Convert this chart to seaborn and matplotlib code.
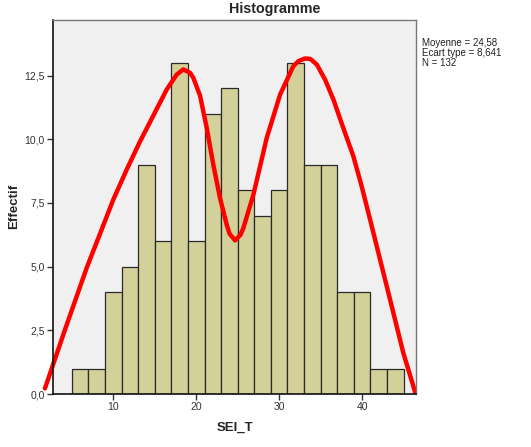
import matplotlib
matplotlib.use("Agg")
import matplotlib.pyplot as plt
import seaborn as sns
import numpy as np
from matplotlib.ticker import FuncFormatter

# bins of width 2 from 5 to 45
bin_edges = [5, 7, 9, 11, 13, 15, 17, 19, 21, 23, 25, 27, 29, 31, 33, 35, 37, 39, 41, 43, 45]
counts = [1, 1, 4, 5, 9, 6, 13, 6, 11, 12, 8, 7, 8, 13, 9, 9, 4, 4, 1, 1]

# red curve, points
curve_x = [1.76, 4.17, 6.79, 8.40, 10.00, 11.62, 13.22, 14.83, 16.44, 17.65, 18.44, 19.25,
           19.65, 20.46, 21.27, 22.06, 22.87, 23.68, 24.02, 24.68, 25.34, 25.68, 26.89,
           28.50, 30.11, 31.71, 32.34, 33.12, 33.78, 34.54, 35.54, 36.54, 37.67, 38.95,
           39.96, 40.97, 42.98, 44.98, 46.39]
curve_y = [0.22, 2.52, 4.95, 6.29, 7.63, 8.81, 9.91, 10.93, 11.95, 12.54, 12.74, 12.61,
           12.41, 11.71, 10.44, 9.00, 7.69, 6.64, 6.29, 6.03, 6.25, 6.51, 7.82,
           10.05, 11.75, 12.87, 13.07, 13.17, 13.15, 12.93, 12.34, 11.56, 10.50, 9.33,
           8.14, 6.84, 4.22, 1.60, 0.08]

stats_text = "Moyenne = 24,58\nEcart type = 8,641\nN = 132"

sns.set_style("white")
plt.rcParams['font.family'] = ['Liberation Sans', 'DejaVu Sans']

fig = plt.figure(figsize=(5.31, 4.47), dpi=100)
ax = fig.add_axes([53 / 531, 1 - 394 / 447, (416 - 53) / 531, (394 - 19.5) / 447])
ax.set_facecolor('#f0f0f0')

centers = [(bin_edges[i] + bin_edges[i + 1]) / 2 for i in range(len(counts))]
sns.histplot(x=centers, weights=counts, bins=bin_edges, ax=ax,
             color='#d3d099', alpha=1, edgecolor='#2a2a2a', linewidth=0.9)

sns.lineplot(x=curve_x, y=curve_y, ax=ax, color='#ff0000', linewidth=3.2,
             sort=False, clip_on=False)

ax.set_xlim(2.73, 46.5)
ax.set_ylim(0, 14.7)
ax.set_xticks([10, 20, 30, 40])
ax.set_yticks([0, 2.5, 5, 7.5, 10, 12.5])
ax.yaxis.set_major_formatter(FuncFormatter(lambda v, p: f"{v:.1f}".replace('.', ',')))
ax.tick_params(axis='both', direction='out', length=4, width=1, color='#333333',
               labelsize=7.5, labelcolor='#333333', pad=2,
               bottom=True, left=True)

for side in ['left', 'bottom']:
    ax.spines[side].set_color('#111111')
    ax.spines[side].set_linewidth(1.2)
for side in ['top', 'right']:
    ax.spines[side].set_color('#777777')
    ax.spines[side].set_linewidth(1.0)

ax.set_xlabel('SEI_T', fontsize=9.5, fontweight='bold')
ax.set_ylabel('Effectif', fontsize=9.5, fontweight='bold')
ax.xaxis.set_label_coords(0.5, -(428 - 394) / 374.5)
ax.yaxis.set_label_coords(-(53 - 14) / 363, 0.5)
ax.xaxis.label.set_va('center')
ax.yaxis.label.set_va('center')

fig.text(275 / 531, 1 - 9 / 447, 'Histogramme', ha='center', va='center',
         fontsize=10.3, fontweight='bold')
fig.text(422 / 531, 1 - 38 / 447, stats_text, ha='left', va='top',
         fontsize=7, linespacing=1.0, color='#222222')

fig.savefig('out.png', dpi=100)
plt.close(fig)
